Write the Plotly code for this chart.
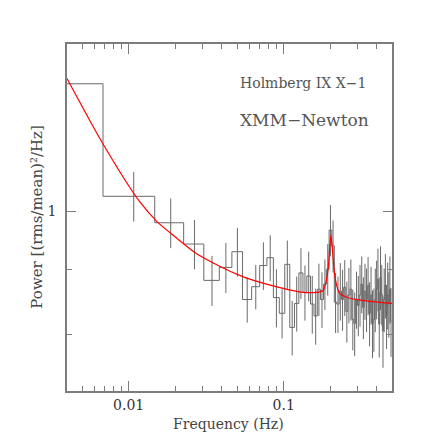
import plotly.graph_objects as go

# binned power spectrum (uniform bins in frequency)
bin_width = 0.0079
freq = [0.00288, 0.01078, 0.01868, 0.02658, 0.03448, 0.04238, 0.05028, 0.05818,
        0.06608, 0.07398, 0.08188, 0.08978, 0.09768, 0.10558, 0.11348, 0.12138,
        0.12928, 0.13718, 0.14508, 0.15298, 0.16088, 0.16878, 0.17668, 0.18458,
        0.19248, 0.20038, 0.20828, 0.21618, 0.22408, 0.23198, 0.23988, 0.24778,
        0.25568, 0.26358, 0.27148, 0.27938, 0.28728, 0.29518, 0.30308, 0.31098,
        0.31888, 0.32678, 0.33468, 0.34258, 0.35048, 0.35838, 0.36628, 0.37418,
        0.38208, 0.38998, 0.39788, 0.40578, 0.41368, 0.42158, 0.42948, 0.43738,
        0.44528, 0.45318, 0.46108, 0.46898, 0.47688, 0.48478, 0.49268]
power = [1.260, 1.028, 0.980, 0.943, 0.883, 0.904, 0.930, 0.853,
         0.873, 0.907, 0.920, 0.856, 0.832, 0.909, 0.811, 0.847,
         0.895, 0.864, 0.890, 0.846, 0.828, 0.869, 0.853, 0.877,
         0.901, 0.967, 0.940, 0.849, 0.846, 0.866, 0.853, 0.872,
         0.835, 0.860, 0.869, 0.823, 0.817, 0.853, 0.844, 0.860,
         0.877, 0.841, 0.866, 0.853, 0.875, 0.832, 0.860, 0.817,
         0.823, 0.853, 0.869, 0.885, 0.816, 0.888, 0.861, 0.806,
         0.853, 0.875, 0.828, 0.860, 0.846, 0.869, 0.820]
power_err = [0.050, 0.046, 0.044, 0.042, 0.040, 0.041, 0.041, 0.035,
             0.035, 0.039, 0.038, 0.045, 0.037, 0.040, 0.040, 0.042,
             0.041, 0.043, 0.040, 0.044, 0.042, 0.041, 0.043, 0.040,
             0.042, 0.045, 0.044, 0.046, 0.043, 0.045, 0.047, 0.044,
             0.046, 0.043, 0.048, 0.045, 0.047, 0.044, 0.046, 0.048,
             0.045, 0.047, 0.044, 0.049, 0.046, 0.048, 0.045, 0.050,
             0.047, 0.049, 0.046, 0.050, 0.048, 0.051, 0.047, 0.052,
             0.049, 0.051, 0.048, 0.052, 0.050, 0.053, 0.051]

# best-fit model (power law + constant + QPO)
model_freq = [0.004, 0.00683, 0.01178, 0.01523, 0.0198, 0.02732, 0.03862, 0.05206,
              0.06037, 0.1005, 0.1267, 0.1624, 0.1797, 0.185, 0.190, 0.1945,
              0.198, 0.2014, 0.2045, 0.2084, 0.213, 0.2193, 0.2304, 0.2676,
              0.3434, 0.5]
model_power = [1.272, 1.130, 1.018, 0.982, 0.956, 0.927, 0.906, 0.891,
               0.885, 0.870, 0.865, 0.864, 0.867, 0.874, 0.887, 0.907,
               0.935, 0.958, 0.945, 0.920, 0.893, 0.876, 0.862, 0.855,
               0.851, 0.847]

x_major = [0.01, 0.1]
x_minor = [0.004, 0.005, 0.006, 0.007, 0.008, 0.009,
           0.02, 0.03, 0.04, 0.05, 0.06, 0.07, 0.08, 0.09,
           0.2, 0.3, 0.4, 0.5]
y_major = [1]
y_minor = [0.8, 0.9]

GREY = "#6a6a6a"
AXIS = "#7c7c7c"
FONT = "DejaVu Serif"

# step outline from bin edges
edges = [max(f - bin_width / 2, 0.001) for f in freq] + [freq[-1] + bin_width / 2]
step_x = edges
step_y = power + [power[-1]]

fig = go.Figure()
fig.add_trace(go.Scatter(
    x=step_x, y=step_y, mode="lines", line=dict(color=GREY, width=1, shape="hv"),
    hoverinfo="skip"))
fig.add_trace(go.Scatter(
    x=freq, y=power, mode="markers", marker=dict(size=0.1, color=GREY),
    error_y=dict(type="data", array=power_err, width=0, thickness=1, color=GREY)))
fig.add_trace(go.Scatter(
    x=model_freq, y=model_power, mode="lines",
    line=dict(color="#ff0000", width=1.2, shape="spline", smoothing=0.7)))

axis_common = dict(
    type="log", showgrid=False, zeroline=False, showline=True, linecolor=AXIS,
    linewidth=1.5, mirror="allticks", ticks="inside", tickcolor=AXIS, tickwidth=1,
    tickfont=dict(family=FONT, size=14, color="#333333"),
)
fig.update_xaxes(
    **axis_common, range=[-2.3979, -0.30103], tickmode="array", tickvals=x_major,
    ticktext=["0.01", "0.1"], ticklen=10,
    minor=dict(tickmode="array", tickvals=x_minor, ticks="inside", ticklen=5,
               tickcolor=AXIS, tickwidth=1),
)
fig.update_yaxes(
    **axis_common, range=[-0.1409, 0.1316], tickmode="array", tickvals=y_major,
    ticktext=["1"], ticklen=9, ticklabelstandoff=6,
    minor=dict(tickmode="array", tickvals=y_minor, ticks="inside", ticklen=5,
               tickcolor=AXIS, tickwidth=1),
)

fig.add_annotation(text="Holmberg IX X\u22121", xref="paper", yref="paper",
                   x=0.526, y=0.887, xanchor="left", yanchor="middle", showarrow=False,
                   font=dict(family=FONT, size=14, color="#555555"))
fig.add_annotation(text="XMM\u2212Newton", xref="paper", yref="paper",
                   x=0.526, y=0.781, xanchor="left", yanchor="middle", showarrow=False,
                   font=dict(family=FONT, size=17, color="#555555"))
fig.add_annotation(text="Frequency (Hz)", xref="paper", yref="paper",
                   x=0.498, y=-0.095, xanchor="center", yanchor="middle", showarrow=False,
                   font=dict(family=FONT, size=14, color="#444444"))
fig.add_annotation(text="Power [(rms/mean)\u00b2/Hz]", xref="paper", yref="paper",
                   x=-0.095, y=0.5, xanchor="center", yanchor="middle", showarrow=False,
                   textangle=-90, font=dict(family=FONT, size=15, color="#444444"))

fig.update_layout(
    width=436, height=436, margin=dict(l=67, r=44, t=44, b=45),
    paper_bgcolor="white", plot_bgcolor="white", showlegend=False,
)

# drop the default page margin so the figure sits at the window origin
fig.write_html("out.html", config={"displayModeBar": False},
               post_script="document.body.style.margin='0';")
